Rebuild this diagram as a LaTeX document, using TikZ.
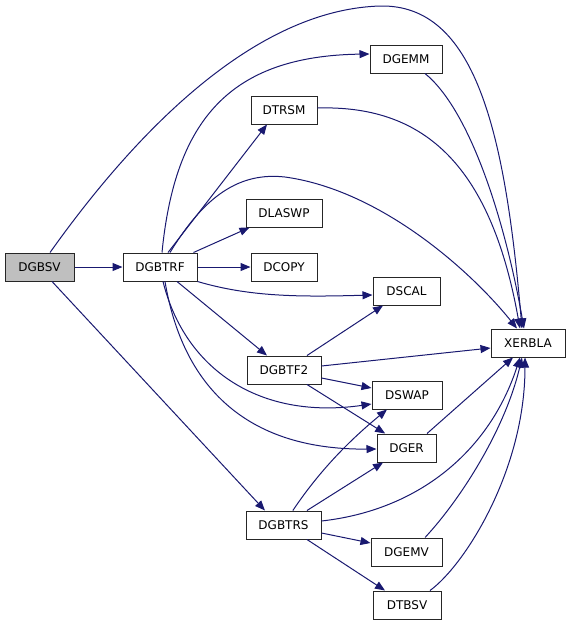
\documentclass[tikz,border=0pt]{standalone}
\usepackage{fontspec}
\setmainfont{DejaVu Sans}
\usetikzlibrary{arrows.meta}
\definecolor{edgeblue}{HTML}{191970}
\definecolor{boxgrey}{HTML}{BFBFBF}
\begin{document}
\begin{tikzpicture}[x=0.75pt,y=-0.75pt,
  fn/.style={draw=black!85,line width=0.75pt,fill=white,minimum height=21pt,inner sep=0pt,font=\fontsize{9}{10}\selectfont},
  call/.style={draw=edgeblue,line width=0.75pt,-{Triangle[length=7.5pt,width=6pt]}}]
\useasboundingbox (0,0) rectangle (571,626);
\node[fn,fill=boxgrey,minimum width=51.75pt] (bsv) at (39.5,267) {DGBSV};
\node[fn,minimum width=55.5pt] (btrf) at (160,267) {DGBTRF};
\node[fn,minimum width=54pt] (gemm) at (406,59) {DGEMM};
\node[fn,minimum width=49.5pt] (trsm) at (284,110) {DTRSM};
\node[fn,minimum width=57pt] (laswp) at (284,213) {DLASWP};
\node[fn,minimum width=49.5pt] (copy) at (284,267) {DCOPY};
\node[fn,minimum width=50.25pt] (scal) at (406.5,291) {DSCAL};
\node[fn,minimum width=55.5pt] (btf2) at (284,370) {DGBTF2};
\node[fn,minimum width=55.5pt] (xer) at (528,343) {XERBLA};
\node[fn,minimum width=52.5pt] (swap) at (407,395) {DSWAP};
\node[fn,minimum width=44.25pt] (ger) at (406.5,448) {DGER};
\node[fn,minimum width=56.25pt] (btrs) at (283.5,525) {DGBTRS};
\node[fn,minimum width=53.25pt] (gemv) at (406.5,552) {DGEMV};
\node[fn,minimum width=51pt] (tbsv) at (407,605) {DTBSV};

% DGBSV
\draw[call] (bsv.east) -- (btrf.west);
\draw[call] ([xshift=7.9pt]bsv.north) .. controls (130,140) and (250,10) .. (380,6)
  .. controls (475,4) and (505,130) .. ([xshift=-4.5pt]xer.north);
\draw[call] ([xshift=9.4pt]bsv.south) -- ([xshift=-13.9pt]btrs.north);
% DGBTRF
\draw[call] ([xshift=1.5pt]btrf.north) .. controls (175,120) and (230,56) .. ([yshift=3.75pt]gemm.west);
\draw[call] ([xshift=6pt]btrf.north) -- ([xshift=-12.75pt]trsm.south);
\draw[call] ([xshift=7.5pt]btrf.north) .. controls (205,195) and (240,172) .. (285,177)
  .. controls (380,190) and (470,270) .. ([xshift=-8.25pt]xer.north);
\draw[call] ([xshift=-3pt]btrf.north east) -- ([xshift=3pt]laswp.south west);
\draw[call] (btrf.east) -- (copy.west);
\draw[call] (btrf.south east) .. controls (250,297) and (300,297) .. ([yshift=-3pt]scal.west);
\draw[call] ([xshift=12.75pt]btrf.south) -- ([xshift=-12.75pt]btf2.north);
\draw[call] ([xshift=2.25pt]btrf.south) .. controls (185,370) and (260,420) .. ([yshift=-6.75pt]swap.west);
\draw[call] ([xshift=3.75pt]btrf.south) .. controls (185,400) and (260,450) .. ([yshift=-0.75pt]ger.west);
% DGBTF2
\draw[call] ([xshift=17.25pt]btf2.north) -- ([xshift=-17.6pt]scal.south);
\draw[call] ([yshift=3pt]btf2.east) -- ([yshift=-3.75pt]xer.west);
\draw[call] ([yshift=-6pt]btf2.east) -- ([yshift=5.25pt]swap.west);
\draw[call] ([xshift=17.25pt]btf2.south) -- ([xshift=-16pt]ger.north);
% DGBTRS
\draw[call] ([xshift=7pt]btrs.north) .. controls (320,470) and (350,440) .. ([xshift=-15pt]swap.south);
\draw[call] ([xshift=17.6pt]btrs.north) -- ([xshift=-17.6pt]ger.south);
\draw[call] ([yshift=3pt]btrs.east) .. controls (420,510) and (490,450) .. ([xshift=-6pt]xer.south);
\draw[call] ([yshift=-6pt]btrs.east) -- ([yshift=6.75pt]gemv.west);
\draw[call] ([xshift=17.6pt]btrs.south) -- ([xshift=-16.5pt]tbsv.north);
% to XERBLA
\draw[call] ([xshift=15.4pt]ger.north) -- ([xshift=-11.25pt]xer.south);
\draw[call] ([xshift=13.9pt]gemv.north) .. controls (460,500) and (505,430) .. ([xshift=-4.5pt]xer.south);
\draw[call] ([xshift=17.25pt]tbsv.north) .. controls (465,565) and (525,470) .. ([xshift=-2.25pt]xer.south);
\draw[call] ([xshift=14.25pt]gemm.south) .. controls (470,110) and (505,220) .. ([xshift=-3pt]xer.north);
\draw[call] ([yshift=1.5pt]trsm.east) .. controls (420,105) and (490,160) .. ([xshift=-6pt]xer.north);
\end{tikzpicture}
\end{document}
